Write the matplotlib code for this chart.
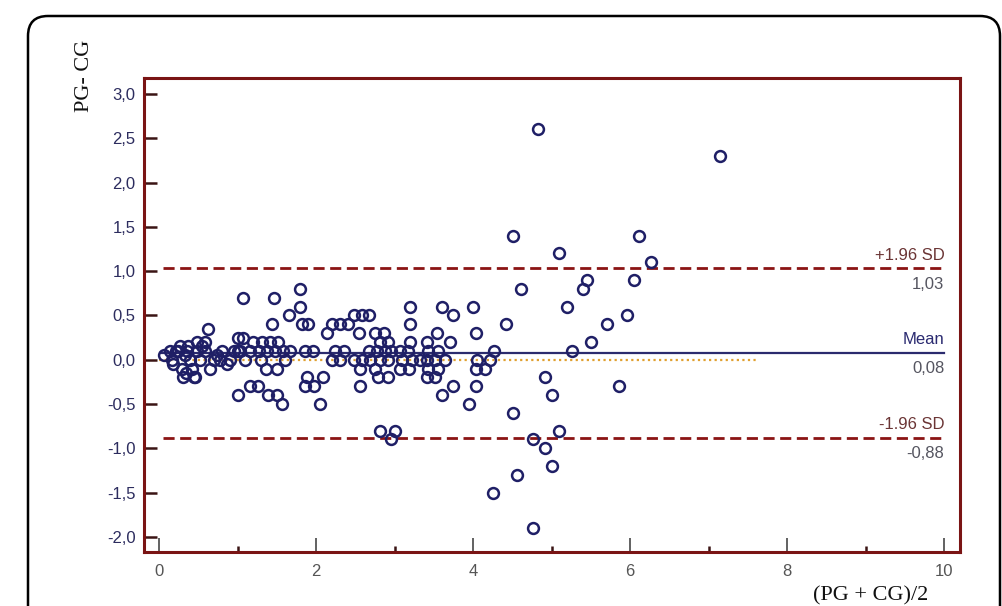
import matplotlib
matplotlib.use("Agg")
import matplotlib.pyplot as plt
from matplotlib.patches import FancyBboxPatch
from matplotlib.ticker import FuncFormatter, MultipleLocator

# Bland-Altman data: mean of methods vs difference
avg = [0.06, 0.14, 0.16, 0.18, 0.22, 0.24, 0.27, 0.29, 0.31, 0.33, 0.34, 0.36, 0.37,
       0.40, 0.42, 0.44, 0.46, 0.48, 0.48, 0.52, 0.55, 0.59, 0.59, 0.63, 0.65, 0.70,
       0.74, 0.78, 0.80, 0.86, 0.90, 0.95,
       1.00, 1.00, 1.01, 1.03, 1.07, 1.07, 1.10, 1.16, 1.16, 1.20, 1.26, 1.27, 1.30,
       1.31, 1.36, 1.38, 1.39, 1.41, 1.44, 1.46, 1.48, 1.50, 1.50, 1.52, 1.56, 1.58,
       1.60, 1.65, 1.67, 1.80, 1.80, 1.82, 1.86, 1.86, 1.88, 1.90, 1.96, 1.97, 2.05,
       2.09,
       2.14, 2.20, 2.20, 2.24, 2.31, 2.31, 2.35, 2.41, 2.48, 2.48, 2.55, 2.56, 2.56,
       2.58, 2.58, 2.67, 2.67, 2.69, 2.75, 2.75, 2.77, 2.79, 2.81, 2.82, 2.82, 2.86,
       2.88, 2.92, 2.92, 2.92, 2.95, 2.96, 3.01,
       3.07, 3.07, 3.09, 3.17, 3.18, 3.19, 3.20, 3.20, 3.22, 3.32, 3.41, 3.41, 3.41,
       3.43, 3.43, 3.52, 3.52, 3.54, 3.55, 3.55, 3.60, 3.60, 3.64, 3.71, 3.75, 3.75,
       3.95, 4.00, 4.04, 4.04, 4.04, 4.05, 4.15, 4.22, 4.26,
       4.25, 4.42, 4.51, 4.51, 4.56, 4.61, 4.76, 4.76, 4.83, 4.92, 4.92, 5.00, 5.00,
       5.10, 5.10, 5.20, 5.26, 5.40, 5.45, 5.50, 5.71, 5.86, 5.96, 6.05, 6.11, 6.27,
       7.15]
diff = [0.05, 0.10, 0.00, -0.05, 0.10, 0.10, 0.15, -0.10, -0.20, 0.05, -0.15, 0.10, 0.15,
        0.00, -0.10, -0.20, -0.20, 0.20, 0.10, 0.00, 0.15, 0.20, 0.10, 0.35, -0.10, 0.00,
        0.05, 0.00, 0.10, -0.05, 0.00, 0.10,
        0.25, 0.10, -0.40, 0.10, 0.70, 0.25, 0.00, 0.10, -0.30, 0.20, -0.30, 0.10, 0.00,
        0.20, -0.10, 0.10, -0.40, 0.20, 0.40, 0.70, 0.10, -0.10, -0.40, 0.20, -0.50, 0.10,
        0.00, 0.50, 0.10, 0.80, 0.60, 0.40, 0.10, -0.30, -0.20, 0.40, 0.10, -0.30, -0.50,
        -0.20,
        0.30, 0.40, 0.00, 0.10, 0.40, 0.00, 0.10, 0.40, 0.50, 0.00, 0.30, -0.10, -0.30,
        0.50, 0.00, 0.50, 0.10, 0.00, 0.30, -0.10, 0.10, -0.20, -0.80, 0.20, 0.00, 0.30,
        0.10, 0.20, 0.00, -0.20, -0.90, 0.10, -0.80,
        0.10, -0.10, 0.00, 0.10, -0.10, 0.40, 0.60, 0.20, 0.00, 0.00, 0.20, 0.00, -0.20,
        0.10, -0.10, 0.00, -0.20, 0.30, 0.10, -0.10, 0.60, -0.40, 0.00, 0.20, 0.50, -0.30,
        -0.50, 0.60, 0.30, -0.10, -0.30, 0.00, -0.10, 0.00, 0.10,
        -1.50, 0.40, 1.40, -0.60, -1.30, 0.80, -0.90, -1.90, 2.60, -0.20, -1.00, -0.40, -1.20,
        1.20, -0.80, 0.60, 0.10, 0.80, 0.90, 0.20, 0.40, -0.30, 0.50, 0.90, 1.40, 1.10,
        2.30]

mean_diff = 0.08
upper_loa = 1.03
lower_loa = -0.88

navy = "#1f1f66"
darkred = "#8b1414"

fig = plt.figure(figsize=(10.03, 6.06), dpi=100)

# rounded frame around the whole figure (runs off the bottom)
frame = FancyBboxPatch((0.28, -0.6), 9.72, 6.5, boxstyle="round,pad=0,rounding_size=0.2",
                       transform=fig.dpi_scale_trans, fill=False, ec="black", lw=1.8,
                       clip_on=False)
fig.patches.append(frame)

ax = fig.add_axes([144 / 1003, 1 - 552 / 606, (960 - 144) / 1003, (552 - 78) / 606])

ax.plot([0.0, 7.6], [0, 0], ls=(0, (1, 1.5)), color="#e0a030", lw=1.6, zorder=2)
ax.plot([0.02, 10], [mean_diff, mean_diff], color="#2b2b6e", lw=1.6, zorder=2)
for v in (upper_loa, lower_loa):
    ax.plot([0.05, 10], [v, v], ls=(0, (4, 2)), color=darkred, lw=2.0, zorder=2)

ax.plot(avg, diff, "o", mfc="none", mec=navy, ms=7.8, mew=1.8, zorder=3)

txt = dict(fontsize=12, family="Liberation Sans", ha="right")
ax.annotate("+1.96 SD", (10, upper_loa), xytext=(0, 4), textcoords="offset points",
            va="bottom", color="#6b3535", **txt)
ax.annotate("1,03", (10, upper_loa), xytext=(0, -6), textcoords="offset points",
            va="top", color="#555560", **txt)
ax.annotate("Mean", (10, mean_diff), xytext=(0, 4), textcoords="offset points",
            va="bottom", color="#2a2a70", **txt)
ax.annotate("0,08", (10, mean_diff), xytext=(0, -6), textcoords="offset points",
            va="top", color="#555560", **txt)
ax.annotate("-1.96 SD", (10, lower_loa), xytext=(0, 4), textcoords="offset points",
            va="bottom", color="#6b3535", **txt)
ax.annotate("-0,88", (10, lower_loa), xytext=(0, -6), textcoords="offset points",
            va="top", color="#555560", **txt)

ax.set_xlim(-0.191, 10.2)
ax.set_ylim(-2.17, 3.18)
ax.xaxis.set_major_locator(MultipleLocator(2))
ax.xaxis.set_minor_locator(MultipleLocator(1))
ax.yaxis.set_major_locator(MultipleLocator(0.5))
ax.yaxis.set_major_formatter(FuncFormatter(lambda v, p: f"{v:.1f}".replace(".", ",")))
ax.xaxis.set_major_formatter(FuncFormatter(lambda v, p: f"{v:.0f}"))

ax.tick_params(axis="y", direction="in", length=9, width=1.8, color="#3a1414",
               labelsize=12, labelcolor="#2c2c5e", pad=6)
ax.tick_params(axis="x", which="major", direction="in", length=10, width=1.3,
               color="#555555", labelsize=12, labelcolor="#555555", pad=9)
ax.tick_params(axis="x", which="minor", direction="in", length=4, width=1.8,
               color="#3a1414")
for lab in ax.get_xticklabels() + ax.get_yticklabels():
    lab.set_family("Liberation Sans")
for s in ax.spines.values():
    s.set_color("#7a1414")
    s.set_linewidth(2.2)

fig.text(85 / 1003, 1 - 76 / 606, "PG- CG", rotation=90, ha="center", va="center",
         fontsize=16, family="Liberation Serif", color="#111111")
fig.text(871 / 1003, 1 / 606, "(PG + CG)/2", ha="center", va="bottom",
         fontsize=16, family="Liberation Serif", color="#111111")

fig.savefig("out.png", dpi=100)
